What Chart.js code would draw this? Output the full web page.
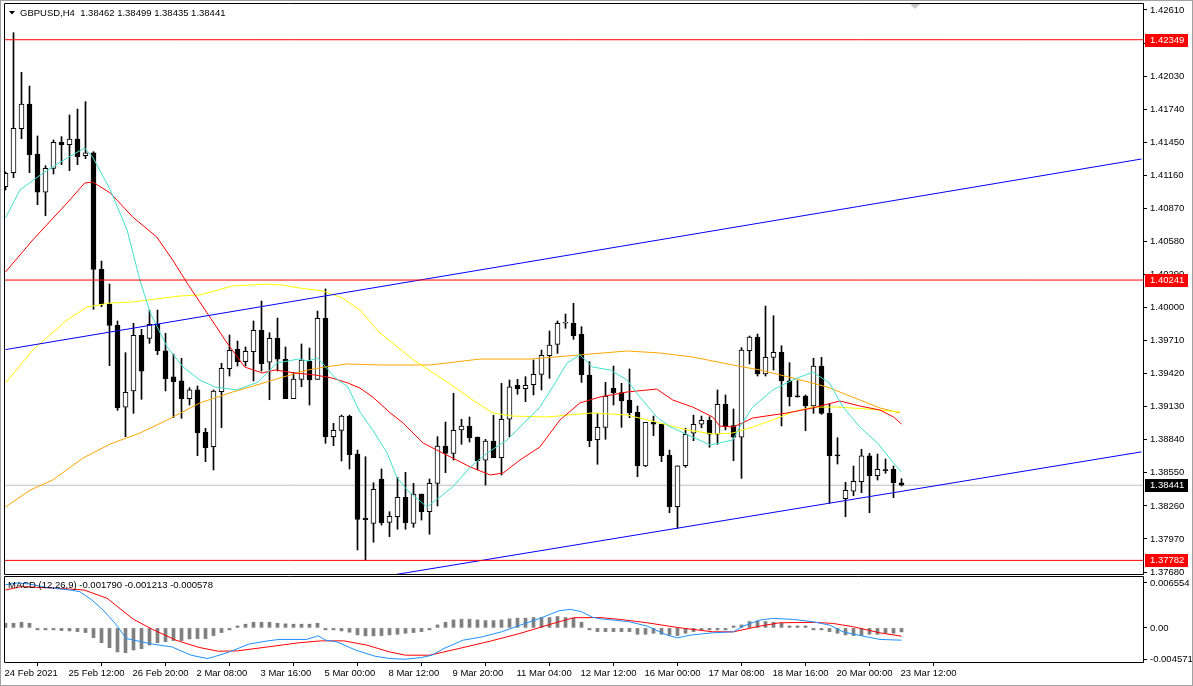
<!DOCTYPE html>
<html><head><meta charset="utf-8">
<script src="https://cdn.jsdelivr.net/npm/chart.js@4.4.1/dist/chart.umd.min.js"></script>
<style>
html,body{margin:0;padding:0;background:#fff;}
#wrap{position:relative;width:1193px;height:686px;overflow:hidden;background:#fff;}
#c1{position:absolute;left:0;top:0;}
#c2{position:absolute;left:0;top:576px;}
#frame{position:absolute;left:0;top:0;width:1191px;height:684px;border:1px solid #a0a0a0;pointer-events:none;}
</style></head><body>
<div id="wrap">
<canvas id="c1" width="1193" height="576"></canvas>
<canvas id="c2" width="1193" height="110"></canvas>
<div id="frame"></div>
</div>
<script>
// ---------- DATA ----------
const timeTickIdx = [0,8,16,24,32,40,48,56,64,72,80,88,96,104,112];
const timeLabels = ["24 Feb 2021","25 Feb 12:00","26 Feb 20:00","2 Mar 08:00","3 Mar 16:00","5 Mar 00:00","8 Mar 12:00","9 Mar 20:00","11 Mar 04:00","12 Mar 12:00","16 Mar 00:00","17 Mar 08:00","18 Mar 16:00","20 Mar 00:00","23 Mar 12:00"];
const priceTicks = [1.37680,1.37970,1.38260,1.38550,1.38840,1.39130,1.39420,1.39710,1.40000,1.40290,1.40580,1.40870,1.41160,1.41450,1.41740,1.42030,1.42320,1.42610];
const macdTicks = [0.006554,0,-0.004571];
const macdTickLabels = ["0.006554","0.00","-0.004571"];

const openP = [1.41060,1.41183,1.41569,1.41785,1.41347,1.41013,1.41221,1.41449,1.41428,1.41478,
1.41332,1.41356,1.40335,1.40031,1.39844,1.39127,1.39268,1.39756,1.39730,1.39853,
1.39621,1.39391,1.39356,1.39200,1.39277,1.38905,1.38779,1.39262,1.39463,1.39634,
1.39525,1.39612,1.39800,1.39520,1.39730,1.39546,1.39200,1.39370,1.39531,1.39370,
1.39906,1.38867,1.38923,1.39048,1.38715,1.38151,1.38107,1.38496,1.38116,1.38165,
1.38335,1.38107,1.38364,1.38209,1.38458,1.38785,1.38721,1.38926,1.38961,1.38864,
1.38662,1.38829,1.38683,1.39020,1.39318,1.39288,1.39323,1.39414,1.39577,1.39677,
1.39862,1.39862,1.39765,1.39408,1.38841,1.38949,1.39291,1.39253,1.39189,1.39081,
1.38610,1.38996,1.38976,1.38706,1.38253,1.38612,1.38897,1.38976,1.39011,1.38888,
1.39151,1.38964,1.38862,1.39621,1.39741,1.39417,1.39563,1.39607,1.39356,1.39224,
1.39224,1.39136,1.39487,1.39072,1.38706,1.38323,1.38388,1.38472,1.38698,1.38525,
1.38575,1.38581,1.38462];
const highP = [1.41189,1.42411,1.42063,1.41943,1.41505,1.41244,1.41470,1.41499,1.41689,1.41741,
1.41806,1.41367,1.40408,1.40206,1.39882,1.39604,1.39862,1.39809,1.39978,1.39978,
1.39774,1.39592,1.39555,1.39297,1.39312,1.38941,1.39277,1.39511,1.39759,1.39706,
1.39654,1.39882,1.40057,1.39779,1.39908,1.39654,1.39432,1.39680,1.39645,1.39969,
1.40163,1.38984,1.39057,1.39057,1.38750,1.38691,1.38463,1.38584,1.38209,1.38511,
1.38555,1.38458,1.38364,1.38496,1.38867,1.38996,1.39248,1.39020,1.39040,1.38864,
1.38844,1.39055,1.39335,1.39364,1.39370,1.39393,1.39540,1.39627,1.39794,1.39882,
1.39943,1.40037,1.39832,1.39525,1.39072,1.39344,1.39487,1.39335,1.39461,1.39136,
1.38993,1.39048,1.38976,1.38750,1.38612,1.38941,1.39057,1.39048,1.39042,1.39277,
1.39233,1.39110,1.39648,1.39750,1.39768,1.40013,1.39928,1.39665,1.39516,1.39358,
1.39233,1.39555,1.39563,1.39154,1.38858,1.38467,1.38610,1.38756,1.38721,1.38715,
1.38671,1.38610,1.38499];
const lowP = [1.41031,1.41139,1.41481,1.41183,1.40902,1.40806,1.41171,1.41253,1.41200,1.41253,
1.41306,1.39984,1.40007,1.39490,1.39098,1.38867,1.39072,1.39195,1.39686,1.39586,
1.39268,1.39034,1.39028,1.39145,1.38700,1.38648,1.38575,1.38946,1.39399,1.39487,
1.39487,1.39356,1.39443,1.39191,1.39443,1.39200,1.39200,1.39305,1.39145,1.39370,
1.38809,1.38788,1.38654,1.38584,1.37873,1.37781,1.37941,1.38092,1.37990,1.38055,
1.38055,1.38072,1.38136,1.38011,1.38259,1.38551,1.38662,1.38800,1.38820,1.38575,
1.38443,1.38683,1.38531,1.38867,1.39239,1.39174,1.39233,1.39277,1.39379,1.39598,
1.39818,1.39721,1.39344,1.38779,1.38625,1.38844,1.39145,1.38949,1.39034,1.38516,
1.38604,1.38876,1.38648,1.38200,1.38063,1.38598,1.38832,1.38946,1.38774,1.38800,
1.38926,1.38656,1.38502,1.39505,1.39399,1.39399,1.39452,1.38961,1.39136,1.39213,
1.38920,1.39072,1.39063,1.38283,1.38627,1.38165,1.38349,1.38376,1.38200,1.38487,
1.38546,1.38332,1.38435];
const closeP = [1.41177,1.41572,1.41785,1.41341,1.41013,1.41221,1.41449,1.41428,1.41478,1.41323,
1.41356,1.40335,1.40031,1.39844,1.39121,1.39256,1.39756,1.39441,1.39853,1.39621,
1.39376,1.39349,1.39200,1.39277,1.38899,1.38770,1.39268,1.39467,1.39625,1.39525,
1.39616,1.39800,1.39507,1.39730,1.39548,1.39200,1.39373,1.39540,1.39364,1.39906,
1.38867,1.38923,1.39048,1.38709,1.38142,1.38139,1.38405,1.38113,1.38169,1.38335,
1.38113,1.38364,1.38209,1.38458,1.38785,1.38721,1.38923,1.38961,1.38858,1.38656,
1.38829,1.38683,1.39020,1.39305,1.39288,1.39318,1.39414,1.39581,1.39671,1.39862,
1.39865,1.39753,1.39411,1.38832,1.38949,1.39224,1.39253,1.39180,1.39077,1.38610,
1.38993,1.38976,1.38700,1.38253,1.38612,1.38888,1.38976,1.39011,1.38888,1.39151,
1.38955,1.38862,1.39627,1.39741,1.39417,1.39563,1.39607,1.39358,1.39218,1.39216,
1.39136,1.39487,1.39072,1.38700,1.38698,1.38397,1.38476,1.38698,1.38525,1.38581,
1.38570,1.38463,1.38441];

// moving averages, sampled along the bars (bar position, price)
const cyanIdx = [0,1.8,4.7,7.7,9.9,10.9,13.1,15.2,16.8,18.1,20.2,22.2,24.3,26.2,28.9,31.6,33.9,36.6,37.8,39,39.6,41.2,42.8,44.3,45.9,47.7,48.9,50.2,52.7,54.3,55.9,58.1,60.2,62.7,64.3,66.8,68.4,70.2,71.8,73.4,75.6,77.7,79.3,81.4,83.1,85.9,88.1,90.9,91.8,93.4,95.9,98.4,100.9,103,104.7,106.8,109,111,112];
const cyanVal = [1.40785,1.41031,1.41180,1.41312,1.41399,1.41320,1.41031,1.40680,1.40241,1.39952,1.39654,1.39478,1.39364,1.39303,1.39277,1.39347,1.39513,1.39548,1.39531,1.39557,1.39513,1.39382,1.39303,1.39084,1.38926,1.38724,1.38513,1.38399,1.38250,1.38338,1.38426,1.38601,1.38724,1.38838,1.38952,1.39127,1.39303,1.39513,1.39584,1.39478,1.39452,1.39364,1.39215,1.39040,1.38952,1.38864,1.38794,1.38838,1.38952,1.39127,1.39276,1.39364,1.39434,1.39338,1.39127,1.38952,1.38812,1.38636,1.38557];
const redIdx = [0,3.4,7.7,9.9,10.9,13.1,15.9,18.9,20.9,22.7,25.2,27.7,29.9,32.1,33.7,36.2,38.7,40.8,42.8,44.3,45.9,48.1,49.7,52.2,53.9,56.4,58.1,60.6,62.2,64.3,66.8,69.3,71.8,74.3,77.7,81.4,83.4,85.9,88.4,89.3,91,93.4,97.7,100.9,104.3,106.8,109.3,111,112];
const redVal = [1.40312,1.40592,1.40917,1.41092,1.41101,1.41005,1.40794,1.40619,1.40417,1.40215,1.39952,1.39689,1.39478,1.39426,1.39452,1.39426,1.39408,1.39382,1.39338,1.39294,1.39215,1.39075,1.38987,1.38812,1.38750,1.38662,1.38601,1.38531,1.38548,1.38662,1.38777,1.39013,1.39163,1.39215,1.39259,1.39285,1.39189,1.39127,1.39040,1.38960,1.38952,1.39031,1.39075,1.39119,1.39180,1.39136,1.39101,1.39040,1.38978];
const yellowIdx = [0,3.4,7.7,10.2,13.1,15.9,21.8,24.3,28.4,32.7,34.6,36.8,38.7,39.7,42.1,44.3,46.8,51,55.2,58.4,60.9,63.4,67.7,71.8,73.4,77.7,81.8,85.2,88.4,90.9,93.4,95.9,98.4,100.9,103.9,107.7,111.8];
const yellowVal = [1.39338,1.39627,1.39891,1.40005,1.40040,1.40049,1.40101,1.40110,1.40189,1.40206,1.40197,1.40171,1.40154,1.40145,1.40084,1.39978,1.39777,1.39540,1.39347,1.39189,1.39075,1.39048,1.39040,1.39066,1.39075,1.39057,1.38987,1.38926,1.38891,1.38899,1.38952,1.39013,1.39084,1.39127,1.39127,1.39110,1.39084];
const orangeIdx = [0,3.1,5.9,9.7,13.1,16.8,20.2,24.3,28.4,32.7,34.3,37.8,39.9,42.7,46.8,53.1,59.3,65.6,71.8,77.7,81.8,85.9,90.9,94.3,98.4,102.7,106.8,109.3,111.8];
const orangeVal = [1.38250,1.38399,1.38487,1.38680,1.38803,1.38899,1.39013,1.39163,1.39259,1.39347,1.39382,1.39452,1.39478,1.39505,1.39496,1.39496,1.39548,1.39548,1.39584,1.39619,1.39601,1.39566,1.39496,1.39452,1.39382,1.39303,1.39189,1.39119,1.39075];

// trend lines (bar position, price) and horizontal levels
const upperTrendIdx = [0,142];
const upperTrendVal = [1.39631,1.41303];
const lowerTrendIdx = [0,142];
const lowerTrendVal = [1.37095,1.38734];
const levels = [1.42349,1.40241,1.37782];
const bidPrice = 1.38441;

// MACD (12,26,9)
const macdHist = [0.00068,0.00068,0.00083,0.00068,-0.00005,-0.00029,-0.00029,-0.00039,-0.00044,-0.00054,
-0.00068,-0.00142,-0.00215,-0.00288,-0.00351,-0.00361,-0.00322,-0.00303,-0.00249,-0.00215,
-0.00200,-0.00185,-0.00185,-0.00161,-0.00156,-0.00156,-0.00112,-0.00068,-0.00015,0.00029,
0.00054,0.00083,0.00083,0.00083,0.00068,0.00059,0.00054,0.00054,0.00054,0.00068,
-0.00010,-0.00029,-0.00044,-0.00063,-0.00102,-0.00117,-0.00117,-0.00112,-0.00102,-0.00093,
-0.00078,-0.00068,-0.00054,-0.00010,0.00044,0.00083,0.00117,0.00127,0.00127,0.00117,
0.00107,0.00107,0.00117,0.00132,0.00142,0.00142,0.00151,0.00151,0.00151,0.00166,
0.00151,0.00142,0.00083,-0.00005,-0.00054,-0.00054,-0.00054,-0.00054,-0.00054,-0.00093,
-0.00093,-0.00078,-0.00093,-0.00102,-0.00112,-0.00078,-0.00054,-0.00010,-0.00005,-0.00005,
-0.00005,0.00002,0.00044,0.00093,0.00102,0.00093,0.00083,0.00068,0.00010,0.00005,
0.00002,-0.00005,-0.00005,-0.00054,-0.00078,-0.00102,-0.00112,-0.00112,-0.00093,-0.00093,
-0.00078,-0.00078,-0.00058];
const macdMainIdx = [0,1.5,3,5,8,9.3,10.8,12.2,13.7,15.1,17,18.4,20.8,23.2,25.2,26,28,30.4,32.8,34.2,37.6,39.1,40,41.4,43.8,46.2,48,50,52,53.3,54.8,57.2,59.6,62,64,66.8,69.2,70.6,72,73.4,74.6,76,78,80.2,82.7,84,85.6,88.4,91,92.2,94.3,96,98.4,101,103,104.7,107.2,109.3,112];
const macdMainVal = [0.00630,0.00655,0.00640,0.00590,0.00553,0.00528,0.00407,0.00261,0.00066,-0.00154,-0.00203,-0.00237,-0.00277,-0.00398,-0.00446,-0.00423,-0.00350,-0.00237,-0.00189,-0.00168,-0.00168,-0.00116,-0.00179,-0.00203,-0.00325,-0.00413,-0.00446,-0.00457,-0.00432,-0.00398,-0.00300,-0.00179,-0.00130,-0.00057,0.00026,0.00139,0.00250,0.00271,0.00236,0.00154,0.00129,0.00114,0.00089,0.00026,-0.00105,-0.00145,-0.00105,-0.00072,-0.00057,0.00026,0.00114,0.00139,0.00124,0.00089,0.00041,-0.00057,-0.00120,-0.00168,-0.00179];
const macdSigIdx = [0,2,6.4,9.8,12.7,16,18.4,21.3,24.2,26.6,29,32.8,36.6,39.4,42.3,45.2,48,50,53,56.7,60.6,64.3,68.2,71,74.3,76.8,80.2,84.3,88.4,91,94.3,96.8,101,103.4,106,109.3,112];
const macdSigVal = [0.00553,0.00602,0.00578,0.00553,0.00432,0.00124,-0.00022,-0.00179,-0.00285,-0.00340,-0.00335,-0.00277,-0.00218,-0.00189,-0.00189,-0.00252,-0.00350,-0.00398,-0.00398,-0.00300,-0.00193,-0.00081,0.00056,0.00148,0.00151,0.00124,0.00075,0.00001,-0.00057,-0.00057,0.00026,0.00075,0.00081,0.00066,0.00016,-0.00072,-0.00121];

// ---------- RENDER ----------
const FONT = '"Liberation Sans", Arial, sans-serif';
const FSIZE = 9.5;
const X_MIN = -0.1875, X_MAX = 142.1875;

function lineDs(idx, vals, color, order){
  return {type:'line', data: idx.map((x,k)=>({x:x, y:vals[k]})), borderColor:color, borderWidth:1,
          pointRadius:0, tension:0, fill:false, order:order, clip:0};
}
function hLine(v, color, order){
  return {type:'line', data:[{x:-2,y:v},{x:150,y:v}], borderColor:color, borderWidth:1, pointRadius:0, fill:false, order:order, clip:0};
}

const bars = openP.map((o,i)=>i);
const bodyColors = openP.map((o,i)=> closeP[i] > o ? '#ffffff' : '#000000');

const mainOverlay = {
  id:'mainOverlay',
  afterDraw(chart){
    const ctx = chart.ctx, a = chart.chartArea, y = chart.scales.y;
    ctx.save();
    ctx.strokeStyle = '#000'; ctx.lineWidth = 1;
    ctx.beginPath();
    ctx.moveTo(a.left+0.5, a.top+0.5); ctx.lineTo(a.right+0.5, a.top+0.5);
    ctx.moveTo(a.left+0.5, a.top+0.5); ctx.lineTo(a.left+0.5, a.bottom+0.5);
    ctx.moveTo(a.left+0.5, a.bottom+0.5); ctx.lineTo(a.right+0.5, a.bottom+0.5);
    ctx.moveTo(a.right+0.5, a.top+0.5); ctx.lineTo(a.right+0.5, a.bottom+0.5);
    ctx.stroke();
    ctx.font = FSIZE + 'px ' + FONT;
    ctx.textBaseline = 'middle'; ctx.textAlign = 'left';
    const tags = levels.map(v=>[v,'#ff0000']).concat([[bidPrice,'#000000']]);
    tags.forEach(([v,bg])=>{
      const py = Math.round(y.getPixelForValue(v));
      ctx.fillStyle = bg; ctx.fillRect(a.right+2, py-6, 43, 13);
      ctx.fillStyle = '#fff'; ctx.fillText(v.toFixed(5), a.right+7, py+0.5);
    });
    // header
    ctx.fillStyle = '#000';
    ctx.beginPath(); ctx.moveTo(9,11); ctx.lineTo(15,11); ctx.lineTo(12,14.5); ctx.closePath(); ctx.fill();
    ctx.fillText('GBPUSD,H4  ' + [openP[112],highP[112],lowP[112],closeP[112]].map(v=>v.toFixed(5)).join(' '), 20, 13);
    // chart shift marker
    ctx.fillStyle = '#c8c8c8';
    ctx.beginPath(); ctx.moveTo(910,4); ctx.lineTo(920,4); ctx.lineTo(915,9); ctx.closePath(); ctx.fill();
    ctx.restore();
  }
};

new Chart(document.getElementById('c1'), {
  type:'bar',
  data:{datasets:[
    hLine(bidPrice,'#c0c0c0',20),
    {type:'bar', data: bars.map(i=>({x:i, y:[lowP[i], highP[i]]})), backgroundColor:'#000', borderWidth:0,
     barThickness:1, grouped:false, order:12},
    {type:'bar', data: bars.map(i=>({x:i, y:[openP[i], closeP[i]]})), backgroundColor: bodyColors, borderColor:'#000',
     borderWidth:1, borderSkipped:false, barThickness:5, grouped:false, minBarLength:1, order:11},
    lineDs(orangeIdx, orangeVal, '#ffa500', 6),
    lineDs(yellowIdx, yellowVal, '#ffff00', 5),
    lineDs(redIdx, redVal, '#ff0000', 4),
    lineDs(cyanIdx, cyanVal, '#40e0d0', 3),
    lineDs(upperTrendIdx, upperTrendVal, '#0000ff', 2),
    lineDs(lowerTrendIdx, lowerTrendVal, '#0000ff', 2),
    ...levels.map(v=>hLine(v,'#ff0000',1))
  ]},
  options:{
    responsive:false, animation:false, devicePixelRatio:1,
    layout:{padding:{left:4, top:3, right:0, bottom:2}},
    plugins:{legend:{display:false}, tooltip:{enabled:false}},
    scales:{
      x:{type:'linear', min:X_MIN, max:X_MAX, offset:false, display:false},
      y:{type:'linear', position:'right', min:1.376625, max:1.426713,
         afterFit:(s)=>{s.width=50; s.paddingTop=0; s.paddingBottom=0;},
         afterBuildTicks:(s)=>{s.ticks = priceTicks.map(v=>({value:v}));},
         ticks:{autoSkip:false, padding:3, color:'#000', font:{family:FONT, size:FSIZE}, callback:(v)=>Number(v).toFixed(5)},
         grid:{drawOnChartArea:false, drawTicks:true, tickLength:4, color:'#000'},
         border:{display:false}}
    }
  },
  plugins:[mainOverlay]
});

const macdOverlay = {
  id:'macdOverlay',
  afterDraw(chart){
    const ctx = chart.ctx, a = chart.chartArea;
    ctx.save();
    ctx.strokeStyle = '#000'; ctx.lineWidth = 1;
    ctx.beginPath();
    ctx.moveTo(a.left+0.5, a.top+0.5); ctx.lineTo(a.right+0.5, a.top+0.5);
    ctx.moveTo(a.left+0.5, a.top+0.5); ctx.lineTo(a.left+0.5, a.bottom+0.5);
    ctx.moveTo(a.left+0.5, a.bottom+0.5); ctx.lineTo(a.right+0.5, a.bottom+0.5);
    ctx.moveTo(a.right+0.5, a.top+0.5); ctx.lineTo(a.right+0.5, a.bottom+0.5);
    ctx.stroke();
    ctx.font = FSIZE + 'px ' + FONT;
    ctx.textBaseline = 'middle'; ctx.fillStyle = '#000';
    ctx.fillText('MACD (12,26,9) -0.001790 -0.001213 -0.000578', 8, 9.5);
    ctx.restore();
  }
};

new Chart(document.getElementById('c2'), {
  type:'bar',
  data:{datasets:[
    {type:'bar', data: bars.map(i=>({x:i, y:macdHist[i]})), backgroundColor:'#808080', borderWidth:0,
     barThickness:3, grouped:false, minBarLength:2, order:5},
    lineDs(macdSigIdx, macdSigVal, '#ff0000', 2),
    lineDs(macdMainIdx, macdMainVal, '#1e90ff', 1)
  ]},
  options:{
    responsive:false, animation:false, devicePixelRatio:1,
    layout:{padding:{left:4, top:0, right:0, bottom:0}},
    plugins:{legend:{display:false}, tooltip:{enabled:false}},
    scales:{
      x:{type:'linear', min:X_MIN, max:X_MAX, offset:false, position:'bottom',
         afterFit:(s)=>{s.height=24; s.paddingLeft=0; s.paddingRight=0;},
         afterBuildTicks:(s)=>{s.ticks = timeTickIdx.map(v=>({value:v}));},
         ticks:{autoSkip:false, maxRotation:0, minRotation:0, align:'start', padding:2, labelOffset:-1,
                color:'#000', font:{family:FONT, size:FSIZE}, callback:(v,i)=>timeLabels[i]},
         grid:{drawOnChartArea:false, drawTicks:true, tickLength:4, color:'#000'},
         border:{display:false}},
      y:{type:'linear', position:'right', min:-0.004972, max:0.007568,
         afterFit:(s)=>{s.width=50; s.paddingTop=0; s.paddingBottom=0;},
         afterBuildTicks:(s)=>{s.ticks = macdTicks.map(v=>({value:v}));},
         ticks:{autoSkip:false, padding:3, color:'#000', font:{family:FONT, size:FSIZE}, callback:(v,i)=>macdTickLabels[i]},
         grid:{drawOnChartArea:false, drawTicks:true, tickLength:4, color:'#000'},
         border:{display:false}}
    }
  },
  plugins:[macdOverlay]
});
</script>
</body></html>
